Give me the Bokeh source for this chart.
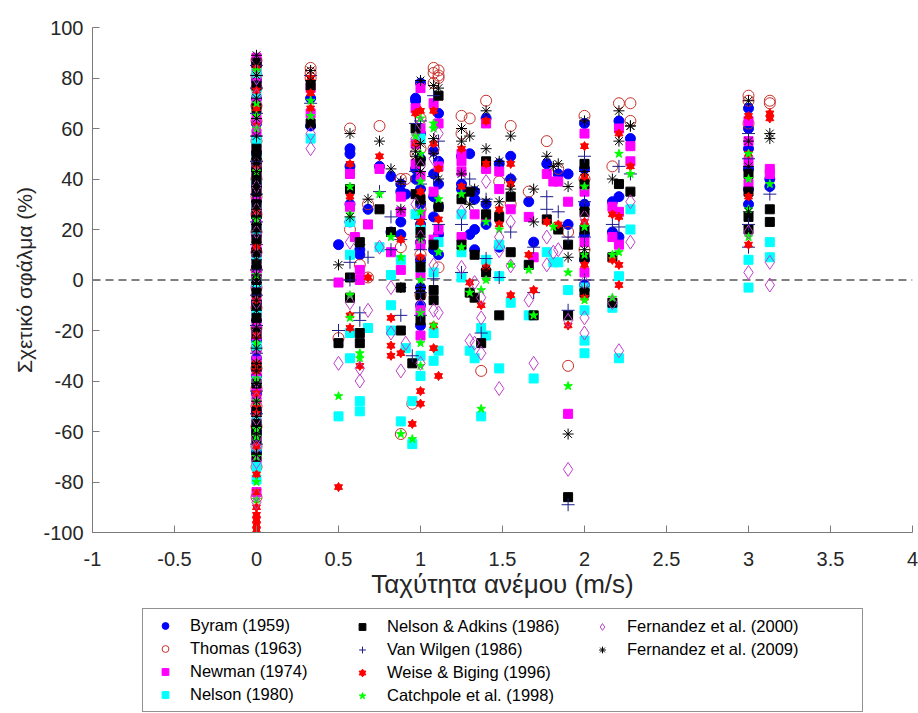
from bokeh.plotting import figure
from bokeh.layouts import column
from bokeh.models import Span, Legend, LegendItem, FixedTicker, ColumnDataSource
from bokeh.embed import file_html
from bokeh.resources import INLINE

# Relative error (%) of each model, grouped by wind speed (m/s)
byram = {
    0.0: [85, 79, 72, 62, 50, 44, 38, 31, 25, 18, 12, 5, -2, -9, -16, -24, -31, -38, -45, -52, -60, -68],
    0.33: [72, 61], 0.5: [14], 0.57: [52, 50, 45, 30, 23], 0.63: [12, 10], 0.68: [28], 0.75: [45],
    0.82: [41, 19], 0.88: [38, 35, 23, 18], 0.91: [34], 0.97: [72, 71, 44, 40],
    1.0: [78, 58, 48, 36, 30, 22, 15, 8, -3, -10, -18], 1.08: [51, 42, 33, 25, 12],
    1.11: [66, 47, 38, 29, 18, 10], 1.25: [49, 38, 36], 1.3: [50, 18], 1.33: [35, 32, 20, 12],
    1.4: [64, 30, 22], 1.48: [46, 13], 1.55: [49, 40], 1.66: [31], 1.69: [15], 1.77: [46],
    1.84: [42], 1.9: [42, 22], 2.0: [62, 44, 30, 18, 8, -2], 2.17: [31, 19], 2.21: [63, 33, 17],
    2.28: [56], 3.0: [68, 60, 52, 44, 36, 30], 3.13: [40, 37],
}
thomas = {
    0.0: [87, 81, 76, 69, 63, 55, 47, 40, 33, 26, 19, 11, 4, -3, -11, -19, -27, -35, -43, -50, -58, -66, -74, -86],
    0.33: [84, 82, 80], 0.5: [-23], 0.57: [60, 20], 0.63: [6], 0.68: [30, 1], 0.75: [61],
    0.88: [40, 13, -61], 0.91: [40], 0.95: [-49], 0.97: [50], 1.0: [64, 52, 28, 10, -6],
    1.08: [84, 82, 78, 52], 1.11: [83, 81, 80, 5], 1.25: [65, 58], 1.3: [64], 1.37: [-36],
    1.4: [71], 1.48: [39], 1.55: [61, 30], 1.66: [35], 1.77: [55], 1.84: [44], 1.9: [19, -34],
    2.0: [65, 40, 12], 2.17: [45], 2.21: [70], 2.28: [70, 63], 3.0: [73, 71, 62], 3.13: [71, 70],
}
newman = {
    0.0: [88, 84, 78, 71, 64, 58, 52, 46, 41, 36, 31, 27, 22, 17, 12, 8, 3, -2, -7, -12, -17, -22,
          -27, -32, -37, -42, -47, -52, -57, -64, -72, -84],
    0.33: [76, 66], 0.5: [-1], 0.57: [42, 29], 0.6: [17], 0.63: [4, 0], 0.68: [22], 0.75: [44],
    0.82: [11], 0.88: [33, 27, 4], 0.97: [68, 54, 46], 1.0: [76, 60, 41, 26, 14, 2, -12, -22],
    1.08: [70, 35, 16], 1.11: [62, 45, 20], 1.25: [50, 47, 43, 17], 1.33: [26], 1.4: [62, 44, 25],
    1.48: [43, 36], 1.55: [28], 1.66: [25], 1.69: [9], 1.77: [42], 1.81: [39], 1.84: [39],
    1.9: [31, -53], 2.0: [58, 35, 15, 3], 2.17: [29, 17], 2.21: [60, 27, 14], 2.28: [53, 47],
    3.0: [63, 55, 47, 38], 3.13: [44, 42],
}
nelson = {
    0.0: [82, 74, 55, 48, 39, 29, 20, 9, -1, -13, -26, -40, -55, -66, -74, -79],
    0.33: [56], 0.5: [-54], 0.57: [23, 10, -21, -31], 0.63: [-48, -52], 0.68: [-19], 0.75: [13],
    0.82: [2, -10, -20], 0.88: [8, -56], 0.91: [-27], 0.95: [-48, -65], 0.97: [26],
    1.0: [56, 20, 5, -30, -38], 1.08: [3, -21, -32], 1.11: [-28, 15], 1.25: [26, 11, 1],
    1.3: [-28], 1.33: [-31], 1.37: [-19, -54], 1.4: [-22, 8], 1.48: [14, 1.5, -35], 1.55: [-9],
    1.66: [-14], 1.69: [-39], 1.77: [11], 1.81: [7], 1.84: [7], 1.9: [-4], 2.0: [-3, -12, -24, -29],
    2.17: [-11], 2.21: [-31, 1.5], 2.28: [28, 20], 3.0: [8, -3], 3.13: [15, 9],
}
nelson_adkins = {
    0.0: [86, 77, 68, 52, 49, 45, 42, 38, 35, 30, 26, 21, 16, 11, 6, 0, -5, -10, -15, -21, -34, -41,
          -52, -57, -60, -63, -70],
    0.33: [77, 62], 0.5: [-25], 0.57: [36, 1, -7], 0.63: [15, -21, -25], 0.75: [28], 0.82: [19],
    0.88: [-3, -20], 0.95: [-33], 0.97: [60, 34], 1.0: [47, 32, 19, 5, -6, -16], 1.08: [14, -8, -4],
    1.11: [73, 29], 1.25: [32, 14], 1.3: [35, -5], 1.33: [10, -7], 1.37: [-25], 1.4: [47, 26, 3],
    1.48: [25, -14], 1.55: [33, 11], 1.66: [6], 1.69: [-14], 1.77: [24], 1.84: [20],
    1.9: [14, -14, -86], 2.0: [46, 38, 27, 20, 9, -5], 2.17: [9, -9], 2.21: [38], 2.28: [35],
    3.0: [42, 35, 25, 20], 3.13: [28, 23],
}
van_wilgen = {
    0.0: [85, 81, 76, 66, 57, 47, 34, 23, 14, 4, -6, -18, -29, -44, -53, -65],
    0.33: [81, 70], 0.5: [-20], 0.57: [7, 0], 0.63: [-13, -16], 0.68: [9], 0.75: [35],
    0.82: [25, 12], 0.88: [16, -14], 0.95: [-30], 0.97: [62, 43], 1.0: [63, 38, 24, 12, -5, -14],
    1.08: [73, 41, 0.5], 1.11: [55, 22], 1.25: [22, 3], 1.3: [40], 1.37: [-21], 1.4: [32, 8.5],
    1.48: [1], 1.55: [40, 19], 1.69: [13, -5], 1.77: [33, 28], 1.84: [27], 1.9: [17, -12, -89],
    2.0: [49, 31, 17, 0], 2.17: [22], 2.21: [45, 21], 2.28: [42], 3.0: [58, 48, 22, 13], 3.13: [34],
}
weise_biging = {
    0.0: [84, 75, 68, 61, 44, 27, 13, -8, -22, -33, -36, -45, -49, -53, -66, -77, -84, -90, -93,
          -95, -97, -99],
    0.33: [80, 74, 68], 0.5: [-82], 0.57: [46, 33, -14, -19], 0.63: [-34], 0.68: [1], 0.75: [49],
    0.82: [-15, -26, -30], 0.88: [16, -29], 0.95: [-57], 0.97: [66, 54],
    1.0: [67, 35, 23, 9, -44, -49], 1.08: [67, 54, -18, -27], 1.11: [44, 24, -38], 1.25: [52, 37],
    1.3: [-1], 1.37: [-10], 1.4: [63, 46, 5], 1.48: [28, 22], 1.55: [46, 38, -6], 1.66: [10],
    1.69: [-4], 1.77: [23], 1.84: [22], 1.9: [-18], 2.0: [53, 41, 23, 6, -7], 2.17: [26, 8],
    2.21: [58, 25, 6, -2], 2.28: [45], 3.0: [65, 50, 33, 14], 3.13: [66, 64],
}
catchpole = {
    0.0: [83, 70, 65, 60, 43, 24, 2, -25, -39, -48, -59, -62, -70, -80, -87],
    0.33: [71, 65], 0.5: [-46], 0.57: [37, 26, -6, -15], 0.63: [-29, -31], 0.75: [34], 0.82: [17],
    0.88: [9, -61], 0.95: [-63], 0.97: [57], 1.0: [64, 50, 39, 27, 16, 0, -13, -25, -34],
    1.08: [62, 60, -18], 1.11: [32, 11], 1.25: [34, 13], 1.3: [-5], 1.37: [-4, -51], 1.4: [23, 0],
    1.48: [20], 1.55: [6], 1.66: [4], 1.69: [-14], 1.81: [21], 1.9: [3, -42], 2.0: [37, 21, 10, -8],
    2.17: [10, -7], 2.21: [50, 11], 2.28: [42], 3.0: [50, 40, 28, 17], 3.13: [38],
}
fernandez_2000 = {
    0.0: [87, 80, 73, 62, 59, 46, 37, 28, 19, 10, 1, -9, -20, -30, -40, -47, -55, -63, -66, -72,
          -85, -88],
    0.33: [58, 52], 0.5: [-33], 0.57: [15, -9], 0.63: [-35, -40], 0.68: [-12], 0.75: [13],
    0.82: [-3, -21], 0.88: [-36], 0.91: [-25], 0.97: [56, 30], 1.0: [62, 45, 17, -10, -33],
    1.08: [48, 6, -12], 1.11: [58, -13], 1.25: [27, 5], 1.3: [-24], 1.33: [-1, -25],
    1.37: [-7, -15, -29], 1.4: [39], 1.48: [17, 11.6, -43], 1.55: [23, 5.6], 1.66: [-8],
    1.69: [-33], 1.77: [17, 6], 1.81: [11], 1.84: [12], 1.9: [-16, -75], 2.0: [25, -1, -15, -21],
    2.17: [-9], 2.21: [-28], 2.28: [31, 15], 3.0: [19, 3], 3.13: [7, -2],
}
fernandez_2009 = {
    0.0: [89, 86, 81, 72, 64, 57, 51, 48, 46, 43, 40, 37, 34, 31, 28, 25, 22, 19, 15, 11, 8, 5, 2,
          -1, -4, -8, -12, -16, -19, -23, -27, -33, -36, -41, -48, -54, -58, -61, -69],
    0.33: [83, 79], 0.5: [6], 0.57: [58, 25], 0.63: [14], 0.68: [32], 0.75: [55], 0.82: [44],
    0.88: [39, 28, -3], 0.97: [51, 49], 1.0: [79, 54, 43, 31, 17, 7, -3], 1.08: [77, 56, 50],
    1.11: [76, 40], 1.25: [60, 55, 42], 1.3: [57, 30], 1.33: [36], 1.4: [67, 52, 31, 4],
    1.48: [47, 31], 1.55: [57, 36], 1.69: [36, 23], 1.77: [49], 1.81: [45], 1.84: [46],
    1.9: [37, 9, -61], 2.0: [63, 43, 28, 12, -4], 2.17: [40], 2.21: [67, 55], 2.28: [61, 61],
    3.0: [71, 55, 45, 27], 3.13: [58, 56],
}

x_ticks = [-1, -0.5, 0, 0.5, 1, 1.5, 2, 2.5, 3, 3.5, 4]
x_tick_labels = ["-1", "-0.5", "0", "0.5", "1", "1.5", "2", "2.5", "3", "3.5", "4"]
y_ticks = [-100, -80, -60, -40, -20, 0, 20, 40, 60, 80, 100]
y_tick_labels = ["-100", "-80", "-60", "-40", "-20", "0", "20", "40", "60", "80", "100"]

labels = ["Byram (1959)", "Thomas (1963)", "Newman (1974)", "Nelson (1980)",
          "Nelson & Adkins (1986)", "Van Wilgen (1986)", "Weise & Biging (1996)",
          "Catchpole et al. (1998)", "Fernandez et al. (2000)", "Fernandez et al. (2009)"]


def flatten(groups):
    xs, ys = [], []
    for speed, errors in groups.items():
        for e in errors:
            xs.append(speed)
            ys.append(e)
    return ColumnDataSource(dict(x=xs, y=ys))


FONT = "Liberation Sans"
AXIS_GREY = "#7a7a7a"
TEXT_GREY = "#262626"

# marker style of every model, in legend order; the hexagram is two opposing triangles
STYLES = [
    [dict(marker="circle", size=10, fill_color="#0000ff", line_color="#0000ff")],
    [dict(marker="circle", size=11, fill_color=None, line_color="#c8302a", line_width=1)],
    [dict(marker="square", size=9, fill_color="#ff00ff", line_color="#ff00ff")],
    [dict(marker="square", size=9, fill_color="#00ffff", line_color="#00ffff")],
    [dict(marker="square", size=9, fill_color="black", line_color="black")],
    [dict(marker="cross", size=13, line_color="#1c1c8c", line_width=1)],
    [dict(marker="triangle", size=8, fill_color="#ff0000", line_color="#ff0000"),
     dict(marker="inverted_triangle", size=8, fill_color="#ff0000", line_color="#ff0000")],
    [dict(marker="star", size=9, fill_color="#00ff00", line_color="#00ff00")],
    [dict(marker="diamond", size=14, fill_color=None, line_color="#c040cc", line_width=1)],
    [dict(marker="asterisk", size=11, line_color="black", line_width=1)],
]
SOURCES = [flatten(g) for g in (byram, thomas, newman, nelson, nelson_adkins, van_wilgen,
                                weise_biging, catchpole, fernandez_2000, fernandez_2009)]

p = figure(width=918, height=605, x_range=(-1, 4), y_range=(-100, 100),
           output_backend="svg", toolbar_location=None,
           min_border_left=92, min_border_right=6, min_border_top=27, min_border_bottom=73)
p.outline_line_color = None
p.xgrid.visible = False
p.ygrid.visible = False

# Zero-error reference line, under the markers
p.add_layout(Span(location=0, dimension="width", line_color="black", line_width=1,
                  line_dash="8 5", level="underlay"))

for src, styles in zip(SOURCES, STYLES):
    for st in styles:
        p.scatter(x="x", y="y", source=src, **st)

# Axes
p.xaxis.ticker = FixedTicker(ticks=x_ticks)
p.yaxis.ticker = FixedTicker(ticks=y_ticks)
p.xaxis.major_label_overrides = {float(t): s for t, s in zip(x_ticks, x_tick_labels)}
p.yaxis.major_label_overrides = {float(t): s for t, s in zip(y_ticks, y_tick_labels)}
for ax in (p.xaxis, p.yaxis):
    ax.axis_line_color = AXIS_GREY
    ax.major_tick_line_color = AXIS_GREY
    ax.major_tick_in = 7
    ax.major_tick_out = 0
    ax.minor_tick_line_color = None
    ax.major_label_text_font = FONT
    ax.major_label_text_font_size = "20px"
    ax.major_label_text_color = TEXT_GREY
    ax.axis_label_text_font = FONT
    ax.axis_label_text_font_style = "normal"
    ax.axis_label_text_color = TEXT_GREY
p.xaxis.axis_label = "Ταχύτητα ανέμου (m/s)"
p.yaxis.axis_label = "Σχετικό σφάλμα (%)"
p.xaxis.axis_label_text_font_size = "26px"
p.yaxis.axis_label_text_font_size = "21px"
p.xaxis.major_label_standoff = 19
p.yaxis.major_label_standoff = 9
p.xaxis.axis_label_standoff = 0
p.yaxis.axis_label_standoff = 4

# Legend strip underneath the axes; its ranges keep the key renderers' data out of view
lg = figure(width=918, height=108, x_range=(10, 11), y_range=(200, 300),
            output_backend="svg", toolbar_location=None,
            x_axis_location=None, y_axis_location=None,
            min_border_left=0, min_border_right=0, min_border_top=0, min_border_bottom=0)
lg.outline_line_color = None
lg.xgrid.visible = False
lg.ygrid.visible = False

items = []
for label, src, styles in zip(labels, SOURCES, STYLES):
    rs = [lg.scatter(x="x", y="y", source=src, **st) for st in styles]
    items.append(LegendItem(label=label, renderers=rs))

common = dict(
    orientation="vertical",
    label_text_font=FONT, label_text_font_size="16.5px", label_text_color="black",
    label_height=21, glyph_height=17, glyph_width=32,
    label_standoff=9, spacing=2, padding=6, margin=0, border_line_width=1,
)
# first column carries the frame of the whole key; the other columns sit on top of it
leg1 = Legend(items=items[0:4], location=(50, 1), label_width=666,
              border_line_color="#262626",
              background_fill_color="white", background_fill_alpha=1, **common)
leg2 = Legend(items=items[4:8], location=(248, 1), label_width=20,
              border_line_color="white", border_line_alpha=0, background_fill_alpha=0, **common)
leg3 = Legend(items=items[8:10], location=(488, 47), label_width=20,
              border_line_color="white", border_line_alpha=0, background_fill_alpha=0, **common)
for leg in (leg1, leg2, leg3):
    lg.add_layout(leg)

layout = column(p, lg, spacing=0)
open("out.html", "w").write(file_html(layout, INLINE))
